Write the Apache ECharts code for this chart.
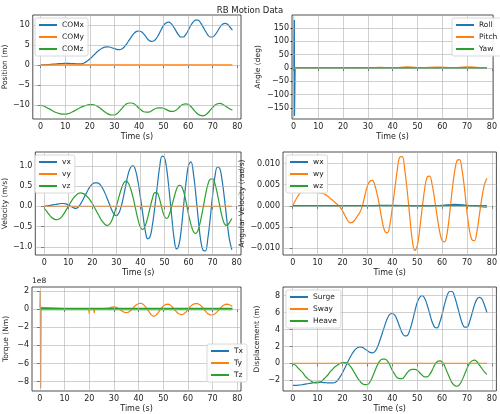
<!DOCTYPE html>
<html><head><meta charset="utf-8">
<script src="https://cdn.jsdelivr.net/npm/echarts@6/dist/echarts.min.js"></script>
<style>html,body{margin:0;padding:0;background:#fff}#c{width:500px;height:414px}</style>
</head><body><div id="c"></div>
<script>
const T=[0,1,2,3,4,5,6,7,8,9,10,11,12,13,14,15,16,17,18,19,20,21,22,23,24,25,26,27,28,29,30,31,32,33,34,35,36,37,38,39,40,41,42,43,44,45,46,47,48,49,50,51,52,53,54,55,56,57,58,59,60,61,62,63,64,65,66,67,68,69,70,71,72,73,74,75,76,77,78];
const xTicks=[0,10,20,30,40,50,60,70,80];
const COMx=[0,0.02,0.05,0.1,0.15,0.2,0.25,0.3,0.35,0.38,0.4,0.4,0.38,0.35,0.32,0.3,0.3,0.35,0.6,1.0,1.5,2.1,2.7,3.3,3.8,4.2,4.45,4.55,4.5,4.3,4.1,3.9,3.85,4.0,4.5,5.3,6.2,7.1,7.9,8.4,8.5,8.3,7.7,6.9,6.2,5.9,6.0,6.6,7.6,8.8,9.9,10.5,10.7,10.4,9.6,8.6,7.6,7.0,7.0,7.6,8.6,9.8,10.7,11.2,11.2,10.6,9.6,8.5,7.5,7.0,7.0,7.6,8.5,9.5,10.2,10.4,10.2,9.5,8.7];
const COMz=[-10.1,-10.2,-10.5,-10.8,-11.1,-11.5,-11.8,-12.0,-12.2,-12.3,-12.3,-12.2,-12.0,-11.7,-11.4,-11.0,-10.7,-10.4,-10.2,-10.0,-9.9,-9.9,-10.0,-10.3,-10.7,-11.2,-11.7,-12.1,-12.4,-12.5,-12.5,-12.2,-11.6,-10.9,-10.2,-9.7,-9.5,-9.5,-9.7,-10.2,-10.8,-11.3,-11.7,-11.8,-11.8,-11.5,-11.1,-10.8,-10.7,-10.7,-10.8,-11.1,-11.4,-11.6,-11.6,-11.3,-10.8,-10.2,-9.8,-9.7,-9.8,-10.3,-11.0,-11.7,-12.3,-12.6,-12.7,-12.5,-12.0,-11.3,-10.6,-10.0,-9.7,-9.6,-9.8,-10.2,-10.6,-11.0,-11.3];
const rollPts=[[0,0],[0.3,180],[0.35,-180],[0.6,0],[10,0],[20,0],[30,0],[40,0],[50,0],[60,0],[70,0],[78,0]];
const pitchPts=[[0,0],[10,1],[20,1.5],[30,1],[35,3],[40,1],[46,5],[52,1],[58,4],[64,1],[70,5],[75,2],[78,2]];
const yawPts=[[0,0],[78,0]];
const vx=[0,0.01,0.02,0.03,0.04,0.05,0.06,0.07,0.07,0.06,0.03,0,-0.03,-0.05,-0.03,0.05,0.15,0.27,0.38,0.48,0.55,0.58,0.58,0.55,0.47,0.36,0.22,0.07,-0.08,-0.19,-0.23,-0.17,0.0,0.25,0.55,0.82,0.97,1.0,0.88,0.6,0.22,-0.2,-0.6,-0.8,-0.75,-0.45,0.0,0.5,0.98,1.24,1.2,0.88,0.35,-0.25,-0.8,-1.05,-0.95,-0.55,0.05,0.62,1.02,1.1,0.82,0.3,-0.3,-0.82,-1.08,-1.1,-0.8,-0.3,0.28,0.75,0.97,0.93,0.62,0.15,-0.38,-0.82,-1.07];
const vz=[-0.05,-0.12,-0.2,-0.27,-0.31,-0.33,-0.32,-0.28,-0.2,-0.1,0.0,0.1,0.19,0.26,0.31,0.33,0.32,0.29,0.23,0.16,0.07,-0.04,-0.15,-0.26,-0.36,-0.43,-0.47,-0.45,-0.36,-0.2,0.0,0.22,0.42,0.57,0.62,0.57,0.42,0.2,-0.07,-0.33,-0.52,-0.57,-0.48,-0.28,-0.03,0.2,0.34,0.33,0.17,-0.07,-0.25,-0.3,-0.2,0.0,0.22,0.42,0.52,0.5,0.35,0.1,-0.2,-0.45,-0.62,-0.67,-0.58,-0.35,-0.05,0.27,0.53,0.67,0.68,0.55,0.3,0.0,-0.27,-0.44,-0.47,-0.4,-0.3];
// angular velocity in units of 1e-3 rad/s
const wy=[0,1.2,2.2,3.0,3.5,3.75,3.8,3.7,3.5,3.3,3.15,3.05,2.9,2.7,2.3,1.8,1.3,0.8,0.3,-0.3,-1.2,-2.3,-3.4,-4.0,-3.9,-3.3,-2.4,-1.5,0.0,2.5,4.7,5.8,6.0,4.8,2.5,-0.5,-3.8,-6.0,-6.4,-4.5,-0.5,4.0,8.5,11.5,11.6,8.5,3.5,-2.5,-8.0,-10.5,-9.5,-5.5,-0.5,4.0,6.8,7.0,5.0,1.5,-2.5,-6.0,-8.2,-8.5,-6.5,-2.0,3.5,8.0,10.7,10.9,8.5,4.0,-1.5,-5.8,-8.0,-8.2,-6.0,-2.0,2.0,5.0,6.5];
const wxPts=[[0,0],[30,0],[40,0.1],[50,-0.1],[60,0.1],[65,0.3],[70,0.1],[78,-0.3]];
const wzPts=[[0,0],[78,0]];
// torque in units of 1e8 N·m
const txPts=[[0,0],[78,0]];
const tyPts=[[0,0.2],[0.15,2.0],[0.3,-8.7],[0.5,0.2],[1,0.15],[10,0.05],[19.8,0],[20,-0.5],[20.2,0],[21.9,0],[22,-0.45],[22.2,0],[26,0.05],[28,0.1],[29,0.22],[30,0.25],[31,0.2],[32,0.05],[33,-0.15],[34,-0.33],[35,-0.4],[36,-0.33],[37,-0.1],[38,0.2],[39,0.45],[40,0.62],[41,0.65],[42,0.5],[43,0.2],[44,-0.2],[45,-0.6],[46,-0.8],[47,-0.7],[48,-0.35],[49,0.05],[50,0.35],[51,0.52],[52,0.55],[53,0.42],[54,0.15],[55,-0.2],[56,-0.48],[57,-0.6],[58,-0.58],[59,-0.38],[60,-0.05],[61,0.3],[62,0.52],[63,0.6],[64,0.6],[65,0.45],[66,0.15],[67,-0.2],[68,-0.5],[69,-0.63],[70,-0.65],[71,-0.5],[72,-0.25],[73,0.05],[74,0.35],[75,0.52],[76,0.55],[77,0.45],[78,0.3]];
const tzPts=[[0,0],[78,0]];
const surge=[-2.6,-2.6,-2.58,-2.55,-2.5,-2.45,-2.4,-2.35,-2.3,-2.25,-2.22,-2.22,-2.25,-2.28,-2.3,-2.3,-2.3,-2.25,-2.0,-1.6,-1.1,-0.5,0.1,0.7,1.2,1.6,1.85,1.95,1.9,1.7,1.5,1.3,1.25,1.4,1.9,2.7,3.6,4.5,5.3,5.8,5.9,5.7,5.1,4.3,3.6,3.25,3.3,3.9,4.9,6.1,7.2,7.8,8.0,7.7,6.9,5.9,4.9,4.3,4.2,4.8,5.8,7.0,8.0,8.5,8.5,7.9,6.9,5.8,4.8,4.3,4.3,4.9,5.9,6.9,7.6,7.8,7.6,6.9,6.0];
const heave=[-0.1,-0.2,-0.5,-0.8,-1.1,-1.5,-1.8,-2.0,-2.2,-2.3,-2.3,-2.2,-2.0,-1.7,-1.4,-1.0,-0.7,-0.4,-0.2,0.0,0.1,0.1,0.0,-0.3,-0.7,-1.2,-1.7,-2.1,-2.4,-2.5,-2.5,-2.2,-1.6,-0.9,-0.2,0.3,0.5,0.5,0.3,-0.2,-0.8,-1.3,-1.7,-1.8,-1.8,-1.5,-1.1,-0.8,-0.7,-0.7,-0.8,-1.1,-1.4,-1.6,-1.6,-1.3,-0.8,-0.2,0.2,0.3,0.2,-0.3,-1.0,-1.7,-2.3,-2.6,-2.7,-2.5,-2.0,-1.3,-0.6,0.0,0.3,0.4,0.2,-0.2,-0.6,-1.0,-1.3];
const zeros=[[0,0],[78,0]];

const C=['#1f77b4','#ff7f0e','#2ca02c'];
const pair=a=>T.map((t,i)=>[t,a[i]]);
const font='DejaVu Sans';
const grids=[
 {left:32,top:15,width:209,height:104},
 {left:292,top:15,width:205,height:104},
 {left:33,top:152,width:208,height:103},
 {left:283,top:152,width:214,height:103},
 {left:32,top:287,width:209,height:104},
 {left:283,top:287,width:214,height:104}];
const xr=[[-3.2,81.5],[-0.6,80.5],[-3.7,81.8],[-3.9,81.8],[-3.2,81.5],[-3.9,81.8]];
const yDefs=[
 {min:-13.5,max:12.5,ticks:[-10,-5,0,5,10],name:'Position (m)',fmt:v=>v<0?'\u2212'+(-v):''+v},
 {min:-191,max:199,ticks:[-150,-100,-50,0,50,100,150],name:'Angle (deg)',fmt:v=>v<0?'\u2212'+(-v):''+v},
 {min:-1.2,max:1.34,ticks:[-1,-0.5,0,0.5,1],name:'Velocity (m/s)',fmt:v=>(v<0?'\u2212':'')+Math.abs(v).toFixed(1)},
 {min:-11.6,max:12.7,ticks:[-10,-5,0,5,10],name:'Angular Velocity (rad/s)',fmt:v=>(v<0?'\u2212':'')+(Math.abs(v)/1000).toFixed(3)},
 {min:-9.03,max:2.44,ticks:[-8,-6,-4,-2,0,2],name:'Torque (Nm)',fmt:v=>v<0?'\u2212'+(-v):''+v},
 {min:-3.26,max:9.03,ticks:[-2,0,2,4,6,8],name:'Displacement (m)',fmt:v=>v<0?'\u2212'+(-v):''+v}];
const gridColor='rgba(176,176,176,0.6)';
const xAxis=grids.map((g,i)=>({type:'value',gridIndex:i,min:xr[i][0],max:xr[i][1],
 name:'Time (s)',nameLocation:'middle',nameGap:14,nameTextStyle:{fontSize:8,fontFamily:font,color:'#222'},
 axisLine:{show:false},axisTick:{show:true,length:3,customValues:xTicks,lineStyle:{color:'#222'}},
 axisLabel:{customValues:xTicks,fontSize:8,margin:4,fontFamily:font,color:'#222'},
 splitLine:{show:false}}));
const yAxis=yDefs.map((d,i)=>({type:'value',gridIndex:i,min:d.min,max:d.max,
 name:d.name,nameLocation:'middle',nameGap:[22,30,26,31,22,22][i],nameRotate:90,nameTextStyle:{fontSize:7.5,fontFamily:font,color:'#222'},
 axisLine:{show:false},axisTick:{show:true,length:3,customValues:d.ticks,lineStyle:{color:'#222'}},
 axisLabel:{customValues:d.ticks,fontSize:8,margin:3,fontFamily:font,color:'#222',formatter:d.fmt},
 splitLine:{show:false}}));
const ln=(name,data,i,c,w,extra)=>Object.assign({type:'line',name,data,xAxisIndex:i,yAxisIndex:i,showSymbol:false,smooth:0.4,
 lineStyle:{color:C[c],width:w||1.2},itemStyle:{color:C[c]},z:2+c,animation:false},extra||{});
const gridLines=i=>({type:'line',data:[],xAxisIndex:i,yAxisIndex:i,silent:true,z:1,
 markLine:{silent:true,symbol:'none',label:{show:false},animation:false,lineStyle:{color:gridColor,type:'solid',width:1},
  data:xTicks.map(v=>({xAxis:v})).concat(yDefs[i].ticks.map(v=>({yAxis:v})))}});
const series=[
 ln('COMx',pair(COMx),0,0),ln('COMy',zeros,0,1,1.5),ln('COMz',pair(COMz),0,2),
 ln('Roll',rollPts,1,0,1.5,{smooth:false}),ln('Pitch',pitchPts,1,1),ln('Yaw',yawPts,1,2),
 ln('vx',pair(vx),2,0),ln('vy',zeros,2,1),ln('vz',pair(vz),2,2),
 ln('wx',wxPts,3,0,1.5),ln('wy',pair(wy),3,1),ln('wz',wzPts,3,2,1.5),
 ln('Tx',txPts,4,0),ln('Ty',tyPts,4,1,1.2,{smooth:false}),ln('Tz',tzPts,4,2,2.5),
 ln('Surge',pair(surge),5,0),ln('Sway',zeros,5,1),ln('Heave',pair(heave),5,2)]
 .concat([0,1,2,3,4,5].map(gridLines));
const leg=(names,pos)=>Object.assign({data:names,orient:'vertical',itemWidth:18,itemHeight:2,itemGap:4,icon:'rect',z:20,
 backgroundColor:'rgba(255,255,255,0.9)',borderColor:'#d8d8d8',borderWidth:1,borderRadius:2,padding:[3,4],
 textStyle:{fontSize:7.5,fontFamily:font,color:'#222'}},pos);
const opt={animation:false,
 title:{text:'RB Motion Data',left:'center',top:1,textStyle:{fontSize:8.5,fontWeight:'normal',fontFamily:font,color:'#222'}},
 grid:grids.map(g=>Object.assign({show:true,borderColor:'#222',borderWidth:0.8,backgroundColor:'transparent'},g)),
 xAxis,yAxis,series,
 legend:[leg(['COMx','COMy','COMz'],{left:35,top:18}),leg(['Roll','Pitch','Yaw'],{left:452,top:18}),
  leg(['vx','vy','vz'],{left:35,top:155}),leg(['wx','wy','wz'],{left:286,top:155}),
  leg(['Tx','Ty','Tz'],{left:207,top:344}),leg(['Surge','Sway','Heave'],{left:286,top:290})],
 graphic:[{type:'text',left:32,top:277,style:{text:'1e8',fontSize:7.5,fontFamily:font,fill:'#222'}}]};
const ch=echarts.init(document.getElementById('c'),null,{renderer:'canvas'});
ch.setOption(opt);
</script></body></html>
